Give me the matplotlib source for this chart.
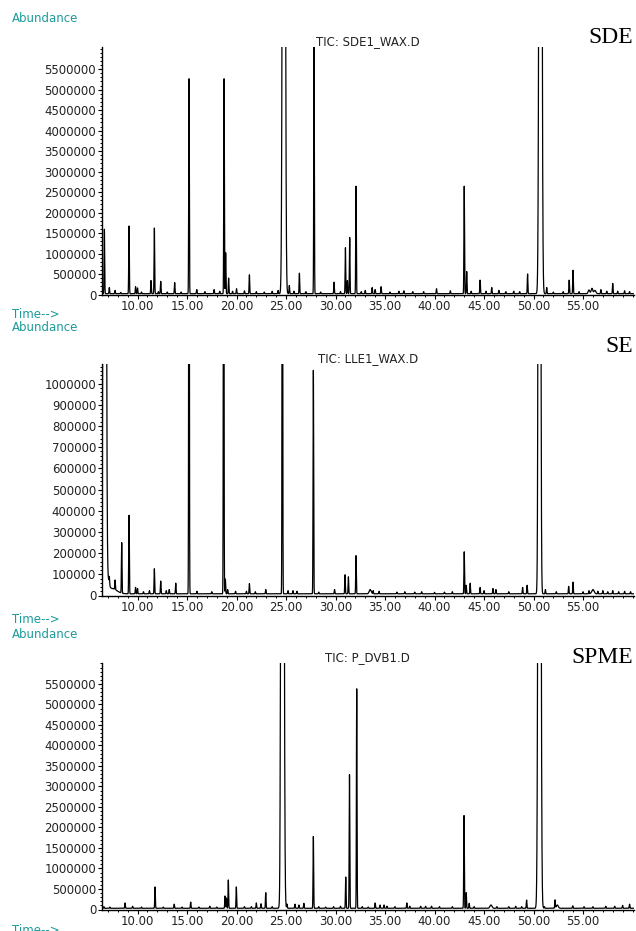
import numpy as np
import matplotlib
matplotlib.use("Agg")
import matplotlib.pyplot as plt
from matplotlib.ticker import FixedLocator, MultipleLocator, FormatStrFormatter

# ---------------- data (retention time in min, abundance) ----------------
sde_rt = [6.65, 7.15, 7.73, 8.3, 9.14, 9.8, 10.0, 10.4, 11.36, 11.7, 12.1, 12.34, 13.0,
          13.75, 14.4, 15.2, 15.98, 16.8, 17.73, 18.3, 18.74, 18.9, 19.2, 19.6, 20.0,
          20.8, 21.3, 22.0, 22.8, 23.6, 24.2, 24.78, 25.33, 25.8, 26.35, 27.0, 27.83,
          28.5, 29.85, 30.5, 31.0, 31.2, 31.43, 32.07, 32.6, 33.0, 33.7, 34.0, 34.6,
          35.5, 36.4, 36.9, 37.8, 38.9, 40.2, 41.6, 43.0, 43.25, 43.7, 44.6, 45.2,
          45.78, 46.5, 47.2, 48.0, 48.6, 49.4, 50.7, 51.33, 52.0, 53.0, 53.6, 53.99,
          54.6, 55.6, 55.9, 56.2, 56.8, 57.4, 58.0, 58.5, 59.2, 59.7]
sde_height = [1570000, 150000, 80000, 30000, 1650000, 170000, 140000, 40000, 320000,
              1600000, 50000, 300000, 40000, 270000, 40000, 5240000, 100000, 50000,
              100000, 60000, 5240000, 1000000, 380000, 60000, 120000, 70000, 460000,
              50000, 40000, 60000, 80000, 40000000, 200000, 60000, 500000, 50000,
              6600000, 40000, 280000, 50000, 1120000, 320000, 1370000, 2620000, 50000,
              80000, 150000, 100000, 170000, 40000, 60000, 70000, 50000, 50000, 120000,
              70000, 2620000, 540000, 60000, 330000, 60000, 150000, 80000, 50000, 60000,
              50000, 480000, 40000000, 150000, 40000, 50000, 330000, 570000, 50000,
              90000, 130000, 80000, 100000, 60000, 250000, 60000, 70000, 50000]
sde_broad = {24.78: 0.1, 50.7: 0.1, 55.6: 0.08, 55.9: 0.08, 56.2: 0.1}
sde_base = 25000

se_rt = [6.68, 6.95, 7.4, 7.15, 7.73, 8.4, 9.14, 9.8, 10.0, 10.6, 11.2, 11.7, 12.34,
         12.9, 13.2, 13.86, 15.2, 16.0, 17.5, 18.7, 18.87, 19.1, 19.9, 21.0, 21.3,
         21.9, 22.95, 24.63, 25.2, 25.7, 26.1, 27.76, 28.3, 29.9, 30.96, 31.3, 32.07,
         33.5, 33.8, 34.4, 36.2, 37.0, 38.0, 38.7, 40.0, 41.0, 41.8, 43.0, 43.2, 43.6,
         44.6, 45.0, 45.9, 46.2, 47.5, 48.9, 49.35, 50.6, 51.2, 52.3, 53.55, 53.99,
         55.0, 55.6, 56.0, 56.5, 57.0, 57.5, 58.0, 58.6, 59.2, 59.8]
se_height = [10000000, 60000, 25000, 35000, 45000, 238000, 370000, 30000, 25000, 10000,
             15000, 118000, 60000, 15000, 20000, 50000, 3000000, 12000, 10000, 3000000,
             70000, 20000, 12000, 12000, 48000, 10000, 20000, 3000000, 15000, 15000,
             12000, 1054000, 8000, 20000, 90000, 80000, 180000, 20000, 15000, 12000,
             8000, 10000, 8000, 10000, 7000, 8000, 10000, 198000, 40000, 50000, 30000,
             15000, 25000, 20000, 10000, 30000, 40000, 10000000, 20000, 10000, 35000,
             55000, 10000, 15000, 20000, 12000, 15000, 10000, 15000, 10000, 12000, 10000]
se_broad = {6.68: 0.1, 6.95: 0.15, 7.4: 0.5, 50.6: 0.08, 33.5: 0.1, 56.0: 0.12}
se_base = 8000

spme_rt = [6.6, 7.2, 8.74, 9.5, 10.4, 11.77, 12.6, 13.7, 14.5, 15.37, 16.2, 17.3, 18.0,
           18.84, 18.98, 19.17, 19.98, 20.8, 21.5, 22.0, 22.47, 22.95, 23.6, 24.45,
           24.65, 25.1, 25.9, 26.3, 26.8, 27.76, 28.3, 29.0, 29.8, 30.5, 31.03, 31.41,
           32.14, 32.7, 33.3, 34.0, 34.5, 34.9, 35.2, 36.0, 37.2, 37.5, 38.6, 39.1, 39.7,
           40.5, 41.8, 42.98, 43.2, 43.5, 44.0, 45.7, 46.3, 47.5, 48.2, 48.8, 49.3, 50.6,
           51.1, 52.17, 52.4, 53.96, 55.1, 56.0, 57.3, 58.2, 59.0, 59.7]
spme_height = [40000, 30000, 130000, 50000, 30000, 520000, 30000, 100000, 30000, 150000,
               30000, 50000, 30000, 300000, 250000, 690000, 520000, 40000, 40000, 130000,
               110000, 380000, 40000, 2100000, 40000000, 100000, 100000, 80000, 120000,
               1750000, 40000, 30000, 40000, 50000, 760000, 3260000, 5350000, 40000,
               30000, 130000, 80000, 80000, 50000, 40000, 130000, 50000, 50000, 50000,
               50000, 40000, 40000, 2260000, 380000, 120000, 40000, 80000, 40000, 40000,
               50000, 40000, 200000, 40000000, 40000, 200000, 80000, 60000, 40000, 40000,
               50000, 50000, 70000, 100000]
spme_broad = {24.65: 0.1, 50.6: 0.1, 24.45: 0.04, 45.7: 0.1, 52.4: 0.1}
spme_base = 30000

panels = [
    ("TIC: SDE1_WAX.D", "SDE", sde_rt, sde_height, sde_broad, sde_base,
     list(range(0, 5500001, 500000)), 100000, 6040000),
    ("TIC: LLE1_WAX.D", "SE", se_rt, se_height, se_broad, se_base,
     list(range(0, 1000001, 100000)), 20000, 1092000),
    ("TIC: P_DVB1.D", "SPME", spme_rt, spme_height, spme_broad, spme_base,
     list(range(0, 5500001, 500000)), 100000, 6010000),
]
x_ticks = [10, 15, 20, 25, 30, 35, 40, 45, 50, 55]

# ---------------- layout (pixels) ----------------
W, H = 636, 931
LEFT, RIGHT = 101.5, 634
boxes = [(47, 294.7), (364, 595.5), (663, 909.5)]          # (top, bottom)
title_base = [45, 362, 661]
tag_base = [43, 352, 663]
abund_base = [22, 331, 638]
time_base = [318, 623, 934.5]
TEAL = "#1b9a9a"

fig = plt.figure(figsize=(W / 100, H / 100), dpi=100)
t = np.arange(6.3, 60.3, 0.002)


def fx(x):
    return x / W


def fy(y):
    return 1 - y / H


for i, (title, tag, rt, hgt, broad, base, yt, ymin, ytop) in enumerate(panels):
    top, bot = boxes[i]
    ax = fig.add_axes([fx(LEFT), fy(bot), (RIGHT - LEFT) / W, (bot - top) / H])
    y = np.full_like(t, float(base))
    for c, a in zip(rt, hgt):
        s = broad.get(c, 0.03)
        y += a * np.exp(-0.5 * ((t - c) / s) ** 2)
    ax.plot(t, y, color="black", lw=0.9)
    ax.set_xlim(6.36, 60.15)
    ax.set_ylim(0, ytop)
    for s in ("top", "right"):
        ax.spines[s].set_visible(False)
    for s in ("left", "bottom"):
        ax.spines[s].set_linewidth(1.0)
    ax.xaxis.set_major_locator(FixedLocator(x_ticks))
    ax.xaxis.set_minor_locator(MultipleLocator(1))
    ax.yaxis.set_major_locator(FixedLocator(yt))
    ax.yaxis.set_minor_locator(MultipleLocator(ymin))
    ax.xaxis.set_major_formatter(FormatStrFormatter("%.2f"))
    ax.yaxis.set_major_formatter(FormatStrFormatter("%d"))
    ax.tick_params(which="major", length=2.6, width=0.8, pad=1.2,
                   labelsize=8.5, labelcolor="#222222", direction="out")
    ax.tick_params(which="minor", length=1.5, width=0.7, direction="out")

    fig.text(fx((LEFT + RIGHT) / 2), fy(title_base[i]), title, ha="center",
             va="baseline", fontsize=8.5, color="#222222", family="DejaVu Sans")
    fig.text(fx(633), fy(tag_base[i]), tag, ha="right", va="baseline",
             fontsize=17, family="Liberation Serif", color="black")
    fig.text(fx(12), fy(abund_base[i]), "Abundance", ha="left", va="baseline",
             fontsize=8.5, color=TEAL, family="DejaVu Sans")
    fig.text(fx(12), fy(time_base[i]), "Time-->", ha="left", va="baseline",
             fontsize=8.5, color=TEAL, family="DejaVu Sans")

fig.savefig("out.png", dpi=100)
